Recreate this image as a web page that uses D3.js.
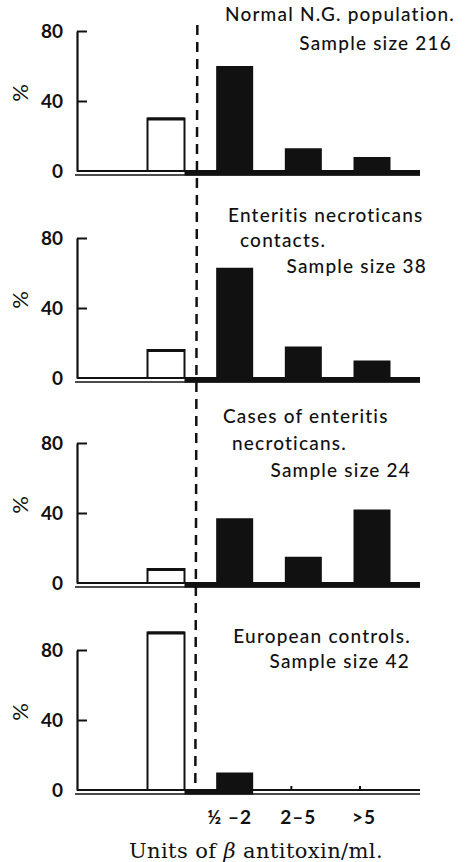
<!DOCTYPE html>
<html lang="en">
<head>
  <meta charset="UTF-8">
  <title>Units of beta antitoxin</title>
  <script src="https://cdnjs.cloudflare.com/ajax/libs/d3/7.8.5/d3.min.js"></script>
  <style>
    body { margin: 0; background: white; }
    svg { display: block; }
    .lbl { font-family: Lato, "Open Sans", sans-serif; fill: #111; }
    .tick text { font-family: Lato, sans-serif; font-weight: 700; font-size: 19px; fill: #111; }
  </style>
</head>
<body>
  <div id="chart"></div>
  <script>
    // data (% of each sample)
    const categories = ["<½", "½–2", "2–5", ">5"];
    const tickLabels = ["", "½ –2", "2–5", ">5"];
    const normalNG = [30, 60, 13, 8];
    const contacts = [16, 63, 18, 10];
    const cases = [8, 37, 15, 42];
    const european = [90, 10, 0, 0];
    const yTicks = [0, 40, 80];
    const panelTitles = [
      ["Normal N.G. population.", "Sample size 216"],
      ["Enteritis necroticans", "contacts.", "Sample size 38"],
      ["Cases of enteritis", "necroticans.", "Sample size 24"],
      ["European controls.", "Sample size 42"]
    ];
    const seriesList = [normalNG, contacts, cases, european];

    const width = 466, height = 862;
    const zeroY = [171, 378, 583, 790];   // baseline of each panel
    const axisX = 77, lineEnd = 420, barW = 37;

    const svg = d3.select("#chart").append("svg")
      .attr("width", width)
      .attr("height", height);

    const x = d3.scalePoint().domain(categories).range([166, 372]);
    const dashX = (x(categories[0]) + x(categories[1])) / 2 - 3;

    // title line layout per panel: [anchor, x, dy from baseline]
    const titleLayout = [
      [["end", 455, -150], ["end", 452, -121]],
      [["start", 228, -156], ["start", 240, -131], ["end", 427, -105]],
      [["start", 223, -160], ["start", 232, -133], ["end", 411, -106]],
      [["end", 411, -147], ["end", 410, -122]]
    ];

    seriesList.forEach((vals, p) => {
      const y0 = zeroY[p];
      const y = d3.scaleLinear().domain([0, 80]).range([y0, y0 - 140]);
      const g = svg.append("g");

      // baseline: double thin line, solid band right of the open bar
      g.append("line").attr("x1", axisX).attr("x2", lineEnd)
        .attr("y1", y0).attr("y2", y0).attr("stroke", "#111").attr("stroke-width", 2);
      g.append("line").attr("x1", axisX - 2).attr("x2", lineEnd)
        .attr("y1", y0 + 4).attr("y2", y0 + 4).attr("stroke", "#111").attr("stroke-width", 1.5);
      const bandEnd = p === 3 ? x(categories[1]) + barW / 2 : lineEnd;
      g.append("rect")
        .attr("x", x(categories[0]) + barW / 2).attr("y", y0)
        .attr("width", bandEnd - x(categories[0]) - barW / 2).attr("height", 4.5)
        .attr("fill", "#111");

      // y axis
      const axis = g.append("g")
        .attr("transform", `translate(${axisX},0)`)
        .call(d3.axisLeft(y).tickValues(yTicks).tickSize(-10).tickSizeOuter(0).tickPadding(14));
      axis.select(".domain").attr("stroke", "#111").attr("stroke-width", 2.2);
      axis.selectAll(".tick line").attr("stroke", "#111").attr("stroke-width", 2)
        .filter(d => d === 0).remove();

      g.append("text").attr("class", "lbl")
        .attr("transform", `translate(22,${y(40) - 8}) rotate(-90)`)
        .attr("text-anchor", "middle").attr("dominant-baseline", "middle")
        .attr("font-size", 22).text("%");

      // bars
      const data = categories.map((c, i) => ({ c, v: vals[i], open: i === 0 }));
      g.selectAll("rect.bar").data(data.filter(d => d.v > 0)).join("rect")
        .attr("class", "bar")
        .attr("x", d => x(d.c) - barW / 2)
        .attr("y", d => y(d.v))
        .attr("width", barW)
        .attr("height", d => y0 - y(d.v))
        .attr("fill", d => d.open ? "white" : "#111")
        .attr("stroke", "#111")
        .attr("stroke-width", d => d.open ? 2 : 0);
      g.selectAll("line.top").data(data.filter(d => d.open && d.v > 0)).join("line")
        .attr("class", "top")
        .attr("x1", d => x(d.c) - barW / 2).attr("x2", d => x(d.c) + barW / 2)
        .attr("y1", d => y(d.v) + 0.5).attr("y2", d => y(d.v) + 0.5)
        .attr("stroke", "#111").attr("stroke-width", 3);
      // little stubs where a class is empty
      g.selectAll("line.stub").data(data.filter(d => d.v === 0)).join("line")
        .attr("class", "stub")
        .attr("x1", d => x(d.c) - 12).attr("x2", d => x(d.c) - 12)
        .attr("y1", y0).attr("y2", y0 - 4)
        .attr("stroke", "#111").attr("stroke-width", 2);

      // panel title
      panelTitles[p].forEach((t, i) => {
        const [anchor, tx, dy] = titleLayout[p][i];
        g.append("text").attr("class", "lbl")
          .attr("x", tx).attr("y", y0 + dy)
          .attr("text-anchor", anchor)
          .attr("font-size", 19).attr("font-weight", 500)
          .attr("letter-spacing", 1.2)
          .text(t);
      });
    });

    // dashed divider through all panels
    svg.append("line")
      .attr("x1", dashX).attr("x2", dashX - 2)
      .attr("y1", 25).attr("y2", 785)
      .attr("stroke", "#111").attr("stroke-width", 2.5)
      .attr("stroke-dasharray", "10,7");

    // x tick labels under the last panel
    svg.append("g").selectAll("text").data(categories).join("text")
      .attr("class", "lbl")
      .attr("x", (d, i) => x(d) - (i === 3 ? 8 : 5))
      .attr("y", 824)
      .attr("text-anchor", "middle")
      .attr("font-size", 19).attr("font-weight", 700)
      .attr("letter-spacing", 1)
      .text((d, i) => tickLabels[i]);

    svg.append("text")
      .attr("x", 256).attr("y", 858)
      .attr("text-anchor", "middle")
      .attr("font-family", "'DejaVu Serif', serif")
      .attr("font-size", 21)
      .attr("letter-spacing", 0.4)
      .attr("fill", "#111")
      .html("Units of <tspan font-style='italic'>β</tspan> antitoxin/ml.");
  </script>
</body>
</html>
